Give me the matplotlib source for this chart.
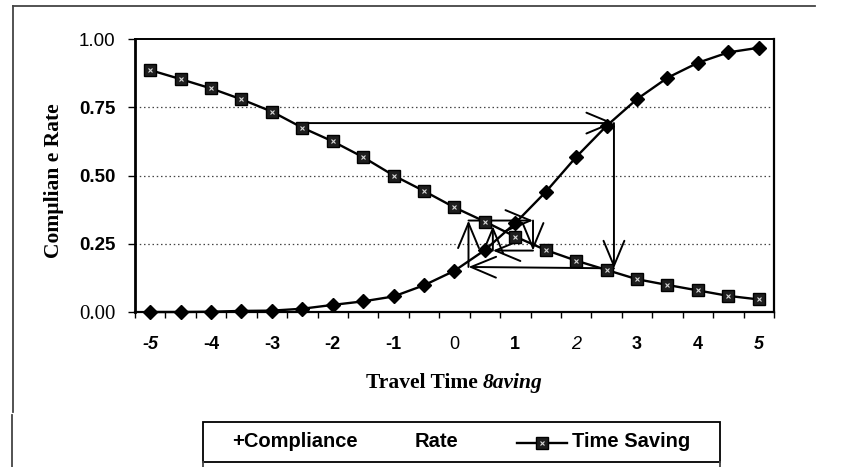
import numpy as np
import matplotlib
matplotlib.use("Agg")
import matplotlib.pyplot as plt
from matplotlib.lines import Line2D
from matplotlib.patches import Rectangle

# ---- data ----
travel_time_saving = [-5, -4.5, -4, -3.5, -3, -2.5, -2, -1.5, -1, -0.5, 0,
                      0.5, 1, 1.5, 2, 2.5, 3, 3.5, 4, 4.5, 5]
compliance_rate = [0.000, 0.000, 0.001, 0.004, 0.005, 0.012, 0.026, 0.039, 0.057, 0.098, 0.151,
                   0.227, 0.326, 0.440, 0.568, 0.682, 0.780, 0.858, 0.913, 0.951, 0.968]
time_saving = [0.886, 0.853, 0.819, 0.779, 0.734, 0.675, 0.625, 0.567, 0.500, 0.443, 0.383,
               0.331, 0.276, 0.227, 0.188, 0.154, 0.120, 0.099, 0.079, 0.059, 0.046]

# cobweb path between the two curves
cobweb_x = [-2.5, 2.62, 2.62, 0.23, 0.23, 1.29, 1.29, 0.63, 0.63]
cobweb_y = [0.692, 0.692, 0.160, 0.165, 0.335, 0.335, 0.225, 0.225, 0.315]

x_tick_labels = ["-5", "-4", "-3", "-2", "-1", "0", "1", "2", "3", "4", "5"]
y_tick_labels = ["0.00", "0.25", "0.50", "0.75", "1.00"]

W, H = 853, 467
fig = plt.figure(figsize=(W / 100, H / 100), dpi=100)
fx = lambda px: px / W
fy = lambda py: 1 - py / H

ax = fig.add_axes([fx(135), fy(312), fx(774) - fx(135), fy(39) - fy(312)])
ax.set_xlim(-5.25, 5.25)
ax.set_ylim(0, 1)

# dotted gridlines
for g in (0.25, 0.5, 0.75):
    ax.axhline(g, color="#444444", lw=0.9, ls=(0, (1.2, 2.2)), zorder=1)

# series
ax.plot(travel_time_saving, compliance_rate, color="black", lw=1.7, marker="D",
        ms=7, mfc="black", mec="black", clip_on=False, zorder=4)
ax.plot(travel_time_saving, time_saving, color="black", lw=1.7, marker="s",
        ms=8, mfc="#1e1e1e", mec="black", mew=1.0, clip_on=False, zorder=4)
ax.plot(travel_time_saving, time_saving, ls="none", marker="x", ms=3.5,
        mec="#d8d8d8", mew=0.8, clip_on=False, zorder=5)

# cobweb arrows
for i in range(len(cobweb_x) - 1):
    ax.annotate("", xy=(cobweb_x[i + 1], cobweb_y[i + 1]),
                xytext=(cobweb_x[i], cobweb_y[i]),
                arrowprops=dict(arrowstyle="->, head_length=1.8, head_width=0.75",
                                color="black", lw=1.4, mutation_scale=10,
                                shrinkA=0, shrinkB=0),
                zorder=3)

# spines
for side in ("left", "right", "top", "bottom"):
    ax.spines[side].set_color("black")
ax.spines["left"].set_linewidth(2.0)
ax.spines["right"].set_linewidth(1.6)
ax.spines["top"].set_linewidth(1.4)
ax.spines["bottom"].set_linewidth(1.6)

# x ticks at category boundaries, labels at integers
boundaries = np.arange(-5.25, 5.26, 0.5)
ax.set_xticks(boundaries)
ax.set_xticklabels([])
ax.tick_params(axis="x", which="major", direction="out", length=4.5, width=1.0)
ax.set_xticks([float(t) for t in x_tick_labels], minor=True)
ax.set_xticklabels(x_tick_labels, minor=True)
ax.tick_params(axis="x", which="minor", length=0, pad=17)

x_styles = {
    "-5": ("bold", "italic"), "-4": ("bold", "normal"), "-3": ("bold", "normal"),
    "-2": ("bold", "normal"), "-1": ("bold", "normal"), "0": ("normal", "normal"),
    "1": ("bold", "normal"), "2": ("normal", "italic"), "3": ("bold", "normal"),
    "4": ("bold", "normal"), "5": ("bold", "italic"),
}
for lab in ax.get_xticklabels(minor=True):
    w, s = x_styles[lab.get_text()]
    lab.set_fontfamily("Liberation Sans")
    lab.set_fontsize(13)
    lab.set_fontweight(w)
    lab.set_fontstyle(s)

ax.set_yticks([float(t) for t in y_tick_labels])
ax.set_yticklabels(y_tick_labels)
ax.tick_params(axis="y", direction="out", length=5, width=1.0, pad=9)
y_styles = {
    "0.00": ("Liberation Serif", "normal", 15),
    "0.25": ("Liberation Sans", "bold", 13.5),
    "0.50": ("Liberation Sans", "bold", 13.5),
    "0.75": ("Liberation Sans", "bold", 13.5),
    "1.00": ("Liberation Sans", "normal", 13.5),
}
for lab in ax.get_yticklabels():
    fam, w, sz = y_styles[lab.get_text()]
    lab.set_fontfamily(fam)
    lab.set_fontweight(w)
    lab.set_fontsize(sz)

# axis titles
fig.text(fx(54), fy(181), "Comµlian e Rate", rotation=90, ha="center", va="center",
         family="Liberation Serif", weight="bold", fontsize=15.5)
fig.text(fx(478), fy(388), "Travel Time", ha="right", va="baseline",
         family="Liberation Serif", weight="bold", fontsize=15.5)
fig.text(fx(483), fy(388), "8aving", ha="left", va="baseline",
         family="Liberation Serif", weight="bold", style="italic", fontsize=15.5)

# outer frame
frame_kw = dict(color="#444444", lw=1.3, transform=fig.transFigure)
fig.add_artist(Line2D([fx(13), fx(815)], [fy(6), fy(6)], **frame_kw))
fig.add_artist(Line2D([fx(13), fx(13)], [fy(6), fy(412)], **frame_kw))
fig.add_artist(Line2D([fx(12), fx(12)], [fy(415), fy(467)], **frame_kw))

# legend box
fig.add_artist(Rectangle((fx(203), fy(462)), fx(720) - fx(203), fy(422) - fy(462),
                         transform=fig.transFigure, fill=False, ec="black", lw=1.3))
fig.add_artist(Line2D([fx(203), fx(203)], [fy(462), fy(467)], **frame_kw))
fig.add_artist(Line2D([fx(720), fx(720)], [fy(462), fy(467)], **frame_kw))
leg_kw = dict(family="Liberation Sans", weight="bold", fontsize=14.5, va="baseline")
fig.text(fx(232), fy(447), "+Compliance", ha="left", **leg_kw)
fig.text(fx(415), fy(447), "Rate", ha="left", **leg_kw)
fig.add_artist(Line2D([fx(517), fx(567)], [fy(443), fy(443)], color="black", lw=1.7,
                      transform=fig.transFigure))
fig.add_artist(Line2D([fx(542)], [fy(443)], marker="s", ms=8, mfc="#1e1e1e", mec="black",
                      transform=fig.transFigure))
fig.add_artist(Line2D([fx(542)], [fy(443)], marker="x", ms=3.5, mec="#d8d8d8", mew=0.8,
                      transform=fig.transFigure))
fig.text(fx(572), fy(447), "Time Saving", ha="left", **leg_kw)

fig.savefig("out.png", dpi=100)
